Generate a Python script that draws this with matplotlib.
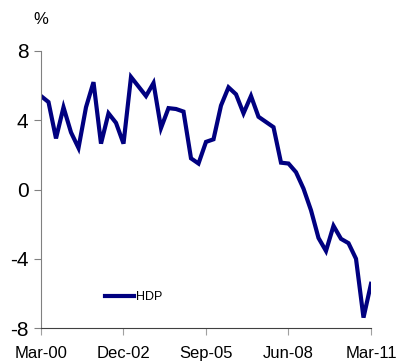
import numpy as np
import matplotlib
matplotlib.use("Agg")
import matplotlib.pyplot as plt

plt.rcParams['font.family'] = ['Liberation Sans', 'DejaVu Sans']

# Quarterly values, Mar-00 .. Mar-11
hdp = [5.4, 5.05, 2.95, 4.75, 3.3, 2.4, 4.75, 6.2, 2.65, 4.4,
       3.85, 2.65, 6.5, 5.95, 5.4, 6.15, 3.55, 4.7, 4.65, 4.5,
       1.8, 1.5, 2.75, 2.9, 4.85, 5.9, 5.5, 4.4, 5.4, 4.2,
       3.9, 3.6, 1.55, 1.5, 1.0, 0.05, -1.2, -2.8, -3.55, -2.1,
       -2.85, -3.1, -4.0, -7.4, -5.45]
tick_pos = [0, 11, 22, 33, 44]
tick_labels = ["Mar-00", "Dec-02", "Sep-05", "Jun-08", "Mar-11"]
y_ticks = [-8, -4, 0, 4, 8]
series_name = "HDP"

W, H = 406, 362
fig = plt.figure(figsize=(W / 100, H / 100), dpi=100)
ax = fig.add_axes([41 / W, 1 - 328 / H, 330 / W, 277 / H])

x = np.arange(len(hdp))
ax.plot(x, hdp, color='#000080', lw=3.0, solid_joinstyle='miter', label=series_name)

ax.set_xlim(0, len(hdp) - 1)
ax.set_ylim(-8, 8)
ax.set_xticks(tick_pos)
ax.set_xticklabels(tick_labels, fontsize=12)
ax.set_yticks(y_ticks)
ax.set_yticklabels([str(v) for v in y_ticks], fontsize=15)

for s in ['top', 'right']:
    ax.spines[s].set_visible(False)
ax.spines['left'].set_color('#808080')
ax.spines['bottom'].set_color('#404040')
ax.tick_params(axis='x', direction='out', length=5, color='#a0a0a0', pad=8)
ax.tick_params(axis='y', direction='out', length=5, color='#808080', pad=4)

fig.text(33 / W, 1 - 19 / H, '%', fontsize=12, va='center', ha='left')

ax.legend(loc='center left', bbox_to_anchor=(64 / 330, 31 / 277), frameon=False,
          fontsize=9, handlelength=2.3, handletextpad=0.15, borderpad=0,
          borderaxespad=0)

fig.savefig('out.png', dpi=100)
